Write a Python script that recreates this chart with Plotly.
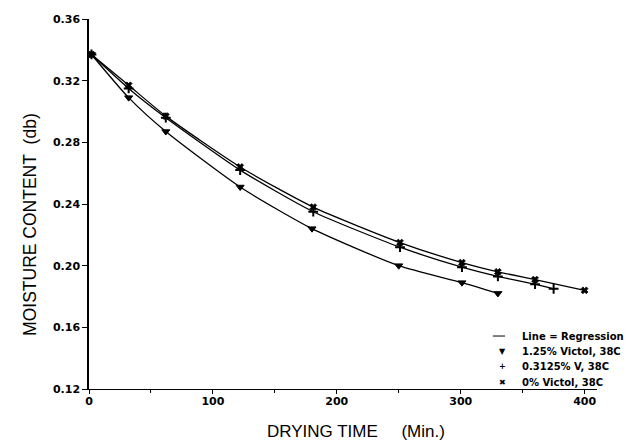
import plotly.graph_objects as go

# Data
t_125 = [2, 32, 62, 122, 180, 250, 301, 330]
mc_125 = [0.337, 0.309, 0.287, 0.251, 0.224, 0.200, 0.189, 0.182]

t_03125 = [2, 32, 62, 122, 181, 251, 301, 330, 360, 375]
mc_03125 = [0.337, 0.315, 0.296, 0.262, 0.235, 0.212, 0.199, 0.193, 0.188, 0.185]

t_0 = [2, 32, 62, 122, 181, 251, 301, 330, 360, 400]
mc_0 = [0.337, 0.317, 0.297, 0.264, 0.238, 0.215, 0.202, 0.196, 0.191, 0.184]

series_names = ["1.25% Victol, 38C", "0.3125% V, 38C", "0% Victol, 38C"]
legend_glyphs = ["▼", "+", "✖"]
x_ticks = [0, 100, 200, 300, 400]
x_minor = [50, 150, 250, 350]
y_ticks = [0.12, 0.16, 0.20, 0.24, 0.28, 0.32, 0.36]

series = [(t_125, mc_125), (t_03125, mc_03125), (t_0, mc_0)]

fig = go.Figure()
line_style = dict(color="black", width=1.3, shape="spline", smoothing=0.6)
for xs, ys in series:
    fig.add_trace(go.Scatter(x=xs, y=ys, mode="lines", line=line_style, showlegend=False, hoverinfo="skip"))

symbols = ["triangle-down", "cross-thin", "x"]
sizes = [7, 7, 6]
widths = [1, 2, 0.8]
for (xs, ys), nm, sym, sz, lw in zip(series, series_names, symbols, sizes, widths):
    fig.add_trace(go.Scatter(x=xs, y=ys, mode="markers", name=nm, showlegend=False,
                             marker=dict(symbol=sym, size=sz, color="black",
                                         line=dict(color="black", width=lw))))

tick_font = dict(family="DejaVu Sans", size=11, color="black")

# Hand-made compact legend (annotations in paper coordinates)
leg_text_x = 0.848
leg_sym_x = 0.813
leg_rows = [0.1432, 0.1014, 0.0595, 0.0176]
annotations = []
leg_font = dict(family="DejaVu Sans", size=10, color="black")
annotations.append(dict(x=leg_text_x, y=leg_rows[0], xref="paper", yref="paper", xanchor="left",
                        yanchor="middle", text="<b>Line = Regression</b>", showarrow=False, font=leg_font))
for r, nm, g in zip(leg_rows[1:], series_names, legend_glyphs):
    annotations.append(dict(x=leg_text_x, y=r, xref="paper", yref="paper", xanchor="left",
                            yanchor="middle", text=f"<b>{nm}</b>", showarrow=False, font=leg_font))
    annotations.append(dict(x=leg_sym_x, y=r, xref="paper", yref="paper", xanchor="center",
                            yanchor="middle", text=f"<b>{g}</b>", showarrow=False,
                            font=dict(family="DejaVu Sans", size=8, color="black")))

# Axis titles
annotations.append(dict(x=0.526, y=0, xref="paper", yref="paper", xanchor="center", yanchor="middle",
                        yshift=-42, showarrow=False,
                        text="DRYING TIME" + "\u00a0" * 5 + "(Min.)",
                        font=dict(family="Liberation Sans", size=17, color="black")))
annotations.append(dict(x=0, y=0.4435, xref="paper", yref="paper", xanchor="center", yanchor="middle",
                        xshift=-59, showarrow=False, textangle=-90,
                        text="MOISTURE CONTENT\u00a0\u00a0(db)",
                        font=dict(family="Liberation Sans", size=17.5, color="black")))

fig.update_layout(
    width=627, height=445,
    margin=dict(l=89, r=30, t=19, b=56),
    plot_bgcolor="white", paper_bgcolor="white",
    font=dict(family="Liberation Sans", color="black"),
    showlegend=False,
    xaxis=dict(range=[0, 410], tickvals=x_ticks, ticktext=[f"<b>{v}</b>" for v in x_ticks],
               ticks="outside", ticklen=4, tickwidth=1, tickcolor="black",
               minor=dict(tickvals=x_minor, ticks="outside", ticklen=3, tickcolor="black"),
               showline=True, linecolor="black", linewidth=1.2, showgrid=False, zeroline=False,
               tickfont=tick_font, ticklabelstandoff=-2, automargin=False),
    yaxis=dict(range=[0.12, 0.36], tickvals=y_ticks, ticktext=[f"<b>{v:.2f}</b>" for v in y_ticks],
               ticks="outside", ticklen=5, tickwidth=1, tickcolor="black",
               showline=True, linecolor="black", linewidth=1.5, showgrid=False, zeroline=False,
               tickfont=tick_font, automargin=False),
    annotations=annotations,
    shapes=[dict(type="line", xref="paper", yref="paper", x0=0.795, x1=0.819,
                 y0=leg_rows[0], y1=leg_rows[0], line=dict(color="black", width=1))],
)

fig.write_html("out.html", config={"displayModeBar": False},
               post_script="document.body.style.margin='0';document.body.style.overflow='hidden';")
